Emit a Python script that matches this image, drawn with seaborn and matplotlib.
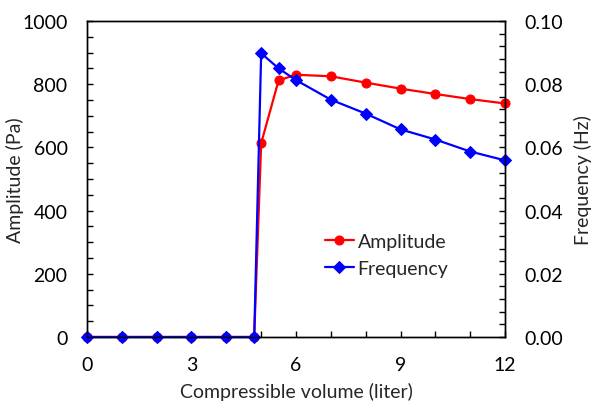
import matplotlib
matplotlib.use("Agg")
import matplotlib.pyplot as plt
import seaborn as sns
from matplotlib.ticker import MultipleLocator

# values
volume = [0, 1, 2, 3, 4, 4.8, 5, 5.5, 6, 7, 8, 9, 10, 11, 12]
amplitude = [0, 0, 0, 0, 0, 0, 613, 812, 830, 825, 805, 786, 769, 753, 739]
frequency = [0, 0, 0, 0, 0, 0, 0.0898, 0.0850, 0.0813, 0.0751, 0.0707,
             0.0657, 0.0625, 0.0587, 0.0559]

FS = 14

sns.set_style("ticks")
plt.rcParams["font.family"] = ["Lato", "DejaVu Sans"]
plt.rcParams["font.size"] = FS

fig = plt.figure(figsize=(5.91, 4.06), dpi=100)
ax = fig.add_axes([0.1472, 0.1675, 0.7073, 0.7783])
ax2 = ax.twinx()

sns.lineplot(x=volume, y=amplitude, ax=ax, color="#ff0000", marker="o",
             markersize=6.5, markeredgecolor="#ff0000", linewidth=1.6,
             label="Amplitude", legend=False, clip_on=False)
sns.lineplot(x=volume, y=frequency, ax=ax2, color="#0000ff", marker="D",
             markersize=6, markeredgecolor="#0000ff", linewidth=1.6,
             label="Frequency", legend=False, clip_on=False)

ax.set_xlim(0, 12)
ax.set_ylim(0, 1000)
ax2.set_ylim(0, 0.1)
ax.xaxis.set_major_locator(MultipleLocator(3))
ax.xaxis.set_minor_locator(MultipleLocator(1))
ax.yaxis.set_major_locator(MultipleLocator(200))
ax.yaxis.set_minor_locator(MultipleLocator(50))
ax2.yaxis.set_major_locator(MultipleLocator(0.02))
ax2.yaxis.set_minor_locator(MultipleLocator(0.004))
ax2.yaxis.set_major_formatter(plt.FormatStrFormatter("%.2f"))

for a in (ax, ax2):
    a.tick_params(which="both", direction="in", length=4, width=1,
                  labelsize=FS, colors="black")
    a.tick_params(axis="x", which="both", pad=14)
    a.tick_params(axis="y", which="both", pad=14)
    for s in a.spines.values():
        s.set_visible(True)
        s.set_color("black")
        s.set_linewidth(1)
ax.tick_params(top=False, right=False)

ax.set_xlabel("Compressible volume (liter)", fontsize=FS, labelpad=6)
ax.set_ylabel("Amplitude (Pa)", fontsize=FS, labelpad=-1)
ax2.set_ylabel("Frequency (Hz)", fontsize=FS, labelpad=8)

h1, l1 = ax.get_legend_handles_labels()
h2, l2 = ax2.get_legend_handles_labels()
ax2.legend(h1 + h2, l1 + l2, loc="upper left", bbox_to_anchor=(0.55, 0.355),
           frameon=False, handlelength=1.5, handletextpad=0.2,
           labelspacing=0.55, fontsize=FS, borderaxespad=0)

fig.savefig("out.png", dpi=100)
